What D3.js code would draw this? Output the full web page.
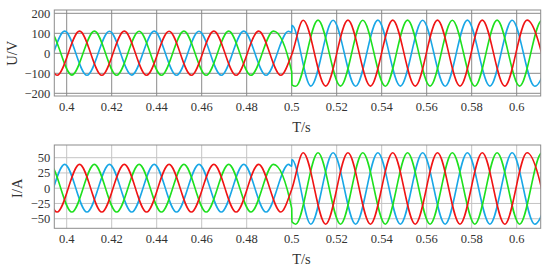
<!DOCTYPE html>
<html>
<head>
<meta charset="utf-8">
<script src="https://cdn.jsdelivr.net/npm/d3@7"></script>
<style>
  body { margin: 0; background: #fff; }
  svg { display: block; font-family: "Liberation Serif", "DejaVu Serif", serif; }
</style>
</head>
<body>
<div id="chart"></div>
<script>
// Extremum times (s) of each phase, plus the step at t = 0.5 s

var redTimes = [0.3758, 0.3858, 0.3957, 0.4057, 0.4156, 0.4256, 0.4355, 0.4455, 0.4554, 0.4654, 0.4753, 0.4853, 0.4952,
  0.5000,
  0.5051, 0.5151, 0.5250, 0.5350, 0.5449, 0.5549, 0.5648, 0.5748, 0.5847, 0.5947, 0.6046, 0.6145];
var greenTimes = [0.3725, 0.3825, 0.3924, 0.4023, 0.4123, 0.4222, 0.4322, 0.4421, 0.4521, 0.4620, 0.4720, 0.4819, 0.4919,
  0.5000, 0.5001,
  0.5018, 0.5117, 0.5217, 0.5316, 0.5416, 0.5515, 0.5615, 0.5714, 0.5814, 0.5913, 0.6013, 0.6112, 0.6211];
var blueTimes = [0.3792, 0.3891, 0.3991, 0.4090, 0.4190, 0.4289, 0.4389, 0.4488, 0.4588, 0.4687, 0.4787, 0.4886, 0.4986,
  0.5000, 0.5001,
  0.5085, 0.5184, 0.5284, 0.5383, 0.5483, 0.5582, 0.5682, 0.5781, 0.5881, 0.5980, 0.6080, 0.6179];

// Voltage (V) at those times
var redVolt = [-110, 110, -110, 111, -110, 111, -110, 110, -110, 111, -110, 111, -110,
  -7,
  165, -164, 166, -164, 166, -164, 166, -164, 166, -164, 166, -164];
var greenVolt = [110, -110, 111, -109, 111, -110, 110, -110, 111, -110, 111, -110, 111,
  -92, -158,
  -165, 166, -164, 165, -165, 166, -164, 165, -165, 166, -164, 165, -165];
var blueVolt = [110, -110, 111, -110, 110, -109, 111, -110, 110, -110, 111, -110, 110,
  104, 140,
  -164, 165, -165, 166, -164, 165, -165, 166, -164, 165, -165, 166];

// Current (A) at those times
var redCurr = [-39, 39, -39, 39, -39, 39, -39, 39, -39, 39, -39, 39, -39,
  -2,
  58, -59, 58, -59, 58, -59, 58, -59, 58, -59, 58, -59];
var greenCurr = [39, -39, 39, -39, 39, -39, 39, -39, 39, -39, 39, -39, 39,
  -33, -55,
  -59, 58, -59, 58, -59, 58, -59, 58, -59, 58, -59, 58, -59];
var blueCurr = [39, -39, 39, -39, 39, -39, 39, -39, 39, -39, 39, -39, 39,
  36, 47,
  -59, 58, -59, 58, -59, 58, -59, 58, -59, 58, -59, 58];

var xTicks = [0.4, 0.42, 0.44, 0.46, 0.48, 0.5, 0.52, 0.54, 0.56, 0.58, 0.6];
var voltTicks = [-200, -100, 0, 100, 200];
var currTicks = [-50, -25, 0, 25, 50];

var width = 550, height = 272;
var plotLeft = 54.3, plotRight = 540.7;

var svg = d3.select("#chart").append("svg")
    .attr("width", width)
    .attr("height", height);

var x = d3.scaleLinear()
    .domain([0.39449, 0.61067])
    .range([plotLeft, plotRight]);

var tickFormat = function(d) { return String(d).replace("-", "\u2212"); };

function zip(times, values) {
  return times.map(function(t, i) { return [t, values[i]]; });
}

function drawPanel(id, top, bottom, yDomain, yTicks, yLabel, gridColor, series) {
  var y = d3.scaleLinear().domain(yDomain).range([bottom, top]);
  var g = svg.append("g");

  g.append("clipPath").attr("id", "clip-" + id)
    .append("rect")
      .attr("x", plotLeft).attr("y", top)
      .attr("width", plotRight - plotLeft).attr("height", bottom - top);

  // grid
  g.selectAll(".hgrid").data(yTicks).enter().append("line")
      .attr("x1", plotLeft).attr("x2", plotRight)
      .attr("y1", function(d) { return y(d); })
      .attr("y2", function(d) { return y(d); })
      .attr("stroke", gridColor).attr("stroke-width", 1);
  g.selectAll(".vgrid").data(xTicks).enter().append("line")
      .attr("x1", function(d) { return x(d); })
      .attr("x2", function(d) { return x(d); })
      .attr("y1", top).attr("y2", bottom)
      .attr("stroke", gridColor).attr("stroke-width", 1);

  // waveforms
  var line = d3.line()
      .x(function(d) { return x(d[0]); })
      .y(function(d) { return y(d[1]); })
      .curve(d3.curveMonotoneX);

  g.append("g").attr("clip-path", "url(#clip-" + id + ")")
    .selectAll("path").data(series).enter().append("path")
      .attr("d", function(s) { return line(zip(s.times, s.values)); })
      .attr("fill", "none")
      .attr("stroke", function(s) { return s.color; })
      .attr("stroke-width", 1.6)
      .attr("stroke-linejoin", "round");

  // frame
  g.append("rect")
      .attr("x", plotLeft).attr("y", top)
      .attr("width", plotRight - plotLeft).attr("height", bottom - top)
      .attr("fill", "none").attr("stroke", "#8c8c8c").attr("stroke-width", 1);

  // tick labels
  g.selectAll(".ylab").data(yTicks).enter().append("text")
      .attr("x", plotLeft - 4)
      .attr("y", function(d) { return y(d); })
      .attr("dy", "0.35em")
      .attr("text-anchor", "end")
      .attr("font-size", "12.5px")
      .attr("fill", "#333")
      .text(tickFormat);
  g.selectAll(".xlab").data(xTicks).enter().append("text")
      .attr("x", function(d) { return x(d); })
      .attr("y", bottom + 15)
      .attr("text-anchor", "middle")
      .attr("font-size", "12.5px")
      .attr("fill", "#333")
      .text(function(d) { return d; });

  // axis titles
  g.append("text")
      .attr("x", (plotLeft + plotRight) / 2 + 4)
      .attr("y", bottom + 36)
      .attr("text-anchor", "middle")
      .attr("font-size", "14.5px")
      .attr("fill", "#333")
      .text("T/s");
  g.append("text")
      .attr("transform", "translate(" + (id === "u" ? 17 : 22) + "," + y(0) + ") rotate(-90)")
      .attr("text-anchor", "middle")
      .attr("font-size", "14.5px")
      .attr("fill", "#333")
      .text(yLabel);
}

drawPanel("u", 10, 96, [-213.5, 216.5], voltTicks, "U/V", "#8a8a8a", [
  {times: blueTimes, values: blueVolt, color: "#19a7e6"},
  {times: greenTimes, values: greenVolt, color: "#1ee01e"},
  {times: redTimes, values: redVolt, color: "#f01414"}
]);

drawPanel("i", 145, 228.3, [-65.7, 70.8], currTicks, "I/A", "#c4c4c4", [
  {times: blueTimes, values: blueCurr, color: "#19a7e6"},
  {times: greenTimes, values: greenCurr, color: "#1ee01e"},
  {times: redTimes, values: redCurr, color: "#f01414"}
]);
</script>
</body>
</html>
